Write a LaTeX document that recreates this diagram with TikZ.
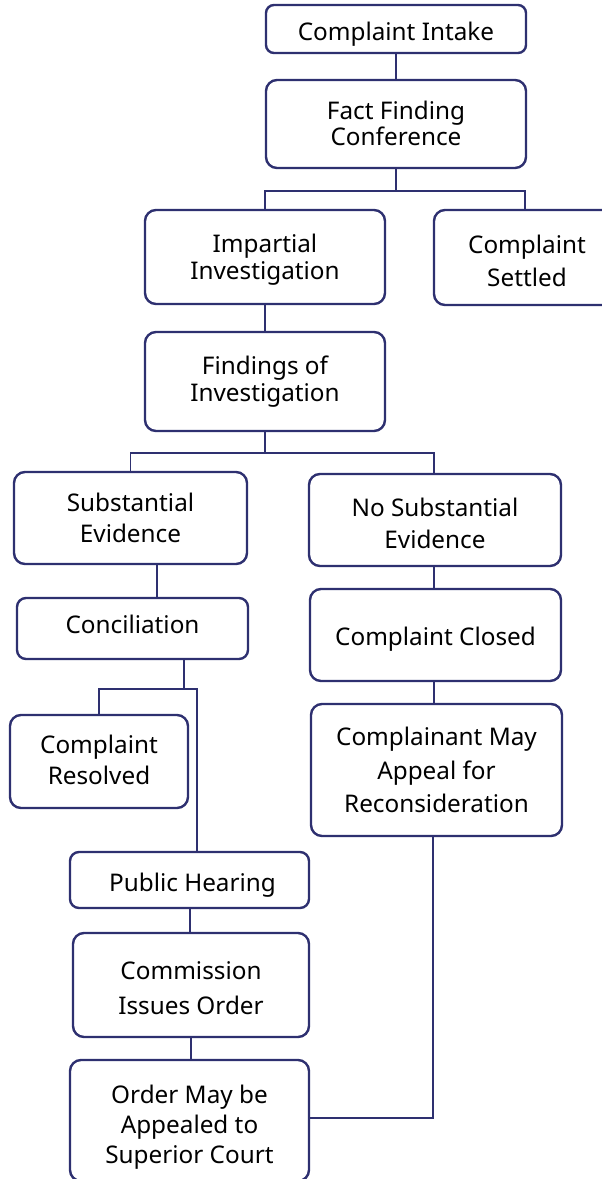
\documentclass[tikz,border=0pt]{standalone}
\usepackage{fontspec}
\setmainfont{Noto Sans}
\definecolor{navy}{HTML}{2E3070}
\begin{document}
\begin{tikzpicture}[x=1pt,y=-1pt,
  box/.style={draw=navy,line width=2.4pt,rounded corners=11pt,fill=white,inner sep=0pt},
  conn/.style={draw=navy,line width=1.8pt},
  fs/.style={font=\fontsize{24.3}{#1}\selectfont,align=center,text=black}]
\useasboundingbox (0,0) rectangle (602,1179);
\clip (0,0) rectangle (602,1179);
\fill[white] (0,0) rectangle (602,1179);
% nodes
\node[box,rounded corners=8pt,minimum width=260pt,minimum height=48pt,
  label={[fs=27,yshift=-5pt]center:Complaint Intake}] (intake) at (396,29) {};
\node[box,minimum width=260pt,minimum height=88pt,
  label={[fs=26,yshift=1pt]center:Fact Finding\\Conference}] (fact) at (396,124) {};
\node[box,minimum width=240pt,minimum height=94pt,
  label={[fs=27,yshift=-3pt]center:Impartial\\Investigation}] (impartial) at (265,257) {};
\node[box,minimum width=186pt,minimum height=95pt,
  label={[fs=33,yshift=-3pt]center:Complaint\\Settled}] (settled) at (527,257.5) {};
\node[box,minimum width=240pt,minimum height=99pt,
  label={[fs=27]center:Findings of\\Investigation}] (findings) at (265,381.5) {};
\node[box,minimum width=233pt,minimum height=92pt,
  label={[fs=31,yshift=0.5pt]center:Substantial\\Evidence}] (subst) at (130.5,518) {};
\node[box,minimum width=252pt,minimum height=92pt,
  label={[fs=32,yshift=-3pt]center:No Substantial\\Evidence}] (nosubst) at (435,520) {};
\node[box,rounded corners=9pt,minimum width=231pt,minimum height=61pt,
  label={[fs=27,yshift=4pt]center:Conciliation}] (concil) at (132.5,628.5) {};
\node[box,minimum width=251pt,minimum height=92pt,
  label={[fs=27,yshift=-4pt]center:Complaint Closed}] (closed) at (435.5,635) {};
\node[box,minimum width=178pt,minimum height=93pt,
  label={[fs=31,yshift=2pt]center:Complaint\\Resolved}] (resolved) at (99,761.5) {};
\node[box,minimum width=251pt,minimum height=132pt,
  label={[fs=33.5]center:Complainant May\\Appeal for\\Reconsideration}] (appeal) at (436.5,770) {};
\node[box,rounded corners=9pt,minimum width=239pt,minimum height=56pt,
  label={[fs=27,yshift=-5pt,xshift=3pt]center:Public Hearing}] (hearing) at (189.5,880) {};
\node[box,minimum width=236pt,minimum height=104pt,
  label={[fs=35,yshift=-3.5pt]center:Commission\\Issues Order}] (commission) at (191,985) {};
\node[box,minimum width=239pt,minimum height=121pt,
  label={[fs=30,yshift=-7pt]center:Order May be\\Appealed to\\Superior Court}] (order) at (189.5,1120.5) {};
% connectors
\draw[conn] (intake.south) -- (fact.north);
\draw[conn] (fact.south) -- ++(0,22) coordinate (fj);
\draw[conn] (impartial.north) |- (fj) -| ([xshift=-2pt]settled.north);
\draw[conn] (impartial.south) -- (findings.north);
\draw[conn] (findings.south) -- ++(0,21) coordinate (gj);
\draw[conn] (subst.north) |- (gj) -| ([xshift=-1pt]nosubst.north);
\draw[conn] ([xshift=26.5pt]subst.south) -- ([xshift=26.5pt]subst.south |- concil.north);
\draw[conn] ([xshift=-1pt]nosubst.south) -- ([xshift=-1pt]nosubst.south |- closed.north);
\draw[conn] ([xshift=-1.5pt]closed.south) -- ([xshift=-1.5pt]closed.south |- appeal.north);
\draw[conn] ([xshift=51.5pt]concil.south) -- ++(0,28.5) coordinate (cj);
\draw[conn] (resolved.north) |- ([xshift=13pt]cj) -- ([xshift=7.5pt]hearing.north);
\draw[conn] ([xshift=0.5pt]hearing.south) -- ([xshift=0.5pt]hearing.south |- commission.north);
\draw[conn] (commission.south) -- (commission.south |- order.north);
\draw[conn] ([yshift=2.5pt]order.east) -| ([xshift=-3.5pt]appeal.south);
\end{tikzpicture}
\end{document}
